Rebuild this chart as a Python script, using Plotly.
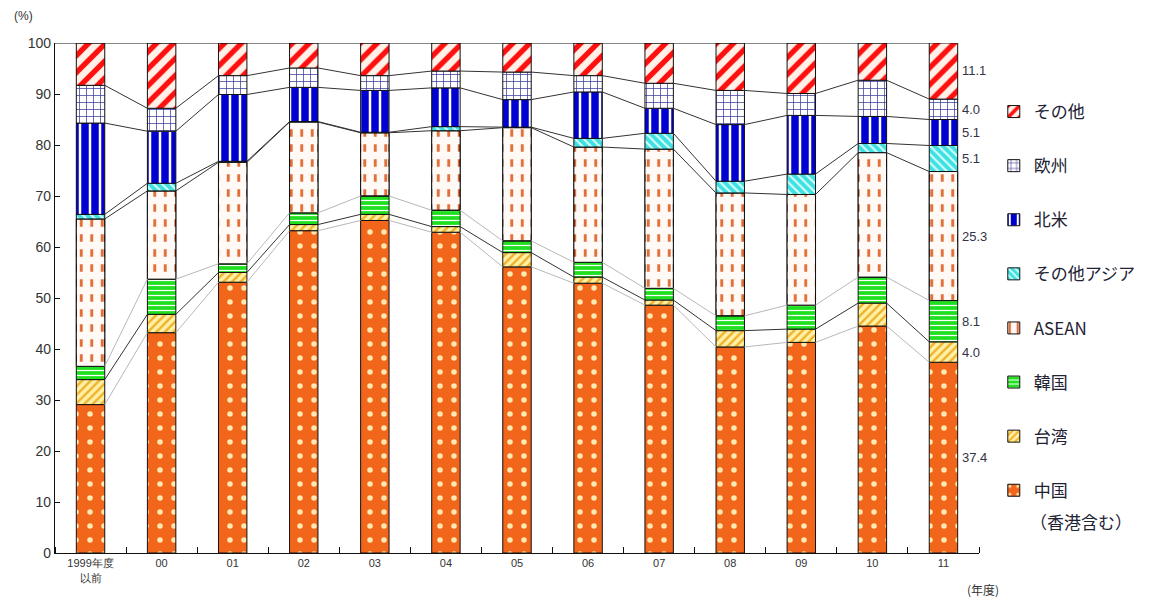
import numpy as np
import plotly.graph_objects as go

# Fiscal-year categories and stacked regional shares (%)
categories = ["1999年度<br>以前", "00", "01", "02", "03", "04", "05",
              "06", "07", "08", "09", "10", "11"]

china = [29.1, 43.2, 53.1, 63.2, 65.2, 62.9, 56.1, 52.9, 48.6, 40.4, 41.3, 44.5, 37.4]
taiwan = [4.9, 3.6, 1.9, 1.2, 1.2, 1.1, 2.8, 1.2, 1.0, 3.2, 2.6, 4.5, 4.0]
korea = [2.6, 6.9, 1.7, 2.3, 3.6, 3.2, 2.3, 2.9, 2.3, 2.9, 4.7, 5.1, 8.1]
asean = [28.9, 17.3, 19.9, 17.8, 12.4, 15.6, 22.2, 22.6, 27.3, 24.1, 21.7, 24.4, 25.3]
other_asia = [0.9, 1.5, 0.2, 0.1, 0.1, 0.8, 0.1, 1.7, 3.1, 2.3, 4.0, 1.8, 5.1]
north_america = [17.9, 10.2, 13.1, 6.7, 8.2, 7.6, 5.4, 9.1, 4.9, 11.1, 11.5, 5.3, 5.1]
europe = [7.4, 4.5, 3.7, 3.8, 2.9, 3.3, 5.4, 3.2, 4.9, 6.7, 4.3, 7.1, 4.0]
other = [8.3, 12.8, 6.4, 4.9, 6.4, 5.5, 5.7, 6.4, 7.9, 9.3, 9.9, 7.3, 11.1]

series_names = ["中国", "台湾", "韓国", "ASEAN", "その他アジア", "北米", "欧州", "その他"]
series_values = [china, taiwan, korea, asean, other_asia, north_america, europe, other]
china_note = "（香港含む）"

# fill styles, bottom to top
styles = [
    dict(bg="#f2661c", fg="#ffe9b0", shape=".", size=14, solidity=0.12),
    dict(bg="#fff1a6", fg="#f0b02a", shape="/", size=6, solidity=0.4),
    dict(bg="#1ee01e", fg="#ffffff", shape="-", size=5, solidity=0.25),
    dict(bg="#fffaf6", fg="#e2703a", shape="|", size=10.5, solidity=0.28),
    dict(bg="#3fe0e0", fg="#d8ffff", shape="\\", size=6, solidity=0.35),
    dict(bg="#0000d0", fg="#ffffff", shape="|", size=10, solidity=0.25),
    dict(bg="#ffffff", fg="#3a3a9a", shape="+", size=7, solidity=0.2),
    dict(bg="#fff0e8", fg="#ff1010", shape="/", size=12, solidity=0.45),
]

x = np.arange(len(categories))
bar_w = 0.4
vals = np.array(series_values)
tops = np.cumsum(vals, axis=0)
bases = tops - vals

fig = go.Figure()

for k, (name, st) in enumerate(zip(series_names, styles)):
    fig.add_trace(go.Bar(
        x=x, y=vals[k], base=bases[k], width=bar_w, name=name,
        legendgroup=f"g{k}", legendrank=1000 - 10 * k,
        marker=dict(color=st["bg"], line=dict(color="#111111", width=1),
                    pattern=dict(shape=st["shape"], fgcolor=st["fg"], bgcolor=st["bg"],
                                 size=st["size"], solidity=st["solidity"],
                                 fillmode="replace")),
        hoverinfo="skip",
    ))
    if name == "ASEAN":
        # white horizontal bands break the vertical lines into dashes
        fig.add_trace(go.Bar(
            x=x, y=vals[k], base=bases[k], width=bar_w, showlegend=False,
            legendgroup=f"g{k}",
            marker=dict(color="rgba(0,0,0,0)", line=dict(color="#111111", width=1),
                        pattern=dict(shape="-", fgcolor="#fffaf6", bgcolor="rgba(0,0,0,0)",
                                     size=15, solidity=0.5, fillmode="replace")),
            hoverinfo="skip",
        ))

# series lines joining segment boundaries of neighbouring bars
line_colors = ["#b8b8b8", "#333333", "#b8b8b8", "#333333", "#333333", "#333333", "#333333"]
for k in range(7):
    xs, ys = [], []
    for i in range(len(categories) - 1):
        xs += [x[i] + bar_w / 2, x[i + 1] - bar_w / 2, None]
        ys += [tops[k][i], tops[k][i + 1], None]
    fig.add_trace(go.Scatter(x=xs, y=ys, mode="lines", showlegend=False,
                             line=dict(color=line_colors[k], width=1), hoverinfo="skip"))

# value labels beside the last bar
last = len(categories) - 1
for k in range(8):
    mid = bases[k][last] + vals[k][last] / 2
    fig.add_annotation(x=x[last] + bar_w / 2, y=mid, text=f"{vals[k][last]:.1f}",
                       showarrow=False, xanchor="left", xshift=2,
                       font=dict(size=13, color="#333344", family="Liberation Sans"))

# frame line along the 100% level
fig.add_shape(type="line", x0=-0.5, x1=x[last] + bar_w / 2, y0=100, y1=100,
              line=dict(color="#111111", width=1.2), layer="above")

fig.add_annotation(xref="paper", yref="paper", x=-0.047, y=1.035, text="(%)",
                   showarrow=False, xanchor="left", yanchor="bottom",
                   font=dict(size=12, color="#333333", family="Liberation Sans"))
fig.add_annotation(xref="paper", yref="paper", x=0.985, y=-0.072, text="(年度)",
                   showarrow=False, xanchor="left", yanchor="middle",
                   font=dict(size=12, color="#333333", family="Noto Sans CJK JP"))
# second line of the China legend entry
fig.add_annotation(xref="paper", yref="paper", x=1.053, y=0.062, text=china_note,
                   showarrow=False, xanchor="left", yanchor="middle",
                   font=dict(size=17, color="#222233", family="Noto Sans CJK JP"))

fig.update_layout(
    width=1176, height=599,
    margin=dict(l=55, r=197, t=43, b=46),
    paper_bgcolor="white", plot_bgcolor="white",
    barmode="overlay",
    showlegend=True,
    legend=dict(x=1.016, y=0.9, xanchor="left", yanchor="top",
                traceorder="grouped", tracegroupgap=29, valign="top",
                font=dict(size=17, color="#222233", family="Noto Sans CJK JP"),
                itemwidth=30, bgcolor="rgba(0,0,0,0)"),
    xaxis=dict(range=[-0.5, 12.5], tickvals=x, ticktext=categories,
               showline=True, linecolor="#111111", linewidth=1.2,
               ticks="", showgrid=False, zeroline=False,
               tickfont=dict(size=11, color="#333333", family="Liberation Sans"),
               minor=dict(tick0=0.5, dtick=1, ticks="inside", ticklen=6,
                          tickcolor="#111111", showgrid=False)),
    yaxis=dict(range=[0, 100], dtick=10, showline=True, linecolor="#111111", linewidth=1.2,
               ticks="inside", ticklen=5, tickcolor="#111111", showgrid=False, zeroline=False,
               tickfont=dict(size=14, color="#333333", family="Liberation Sans")),
)

fig.write_html("out.html")
